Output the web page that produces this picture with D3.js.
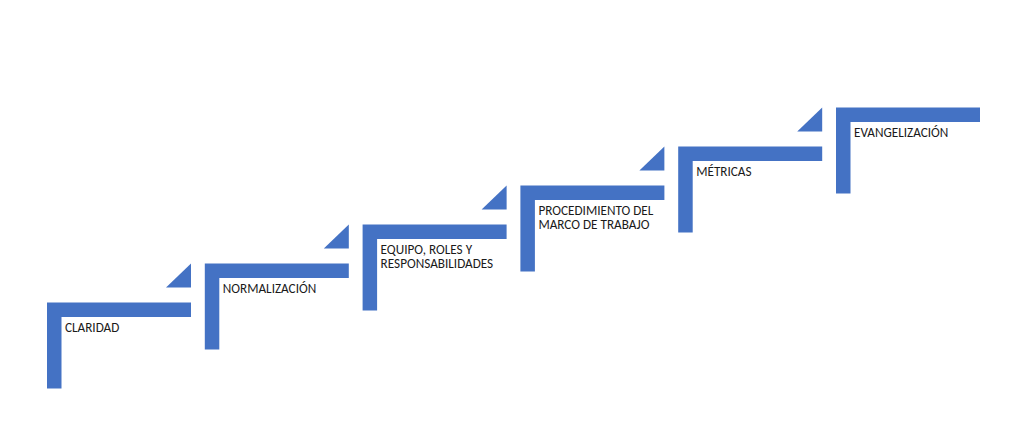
<!DOCTYPE html>
<html>
<head>
<meta charset="utf-8">
<script src="https://cdn.jsdelivr.net/npm/d3@7"></script>
<style>
  body { margin:0; background:#fff; }
  svg { display:block; }
</style>
</head>
<body>
<svg id="chart" width="1019" height="421"></svg>
<script>
// Step labels (one entry per line)
var steps = [0, 1, 2, 3, 4, 5];
var labels = [
  ["CLARIDAD"],
  ["NORMALIZACIÓN"],
  ["EQUIPO, ROLES Y", "RESPONSABILIDADES"],
  ["PROCEDIMIENTO DEL", "MARCO DE TRABAJO"],
  ["MÉTRICAS"],
  ["EVANGELIZACIÓN"]
];

var svg = d3.select("#chart");
var blue = "#4472C4";

// position scales for the staircase
var x = d3.scaleLinear().domain([0, 5]).range([47, 836]);
var y = d3.scaleLinear().domain([0, 5]).range([302.5, 107.5]);

var w = 144, h = 86, t = 14.5;

var g = svg.selectAll("g.step").data(steps).enter().append("g").attr("class", "step")
    .attr("transform", d => `translate(${x(d)},${y(d)})`);

// L-shaped step
g.append("path")
    .attr("d", `M0,0H${w}V${t}H${t}V${h}H0Z`)
    .attr("fill", blue);

// small triangle leading to next step
var dy = y(0) - y(1);
g.filter(d => d < steps.length - 1).append("path")
    .attr("d", `M${w - 25},-15H${w}V${-dy}Z`)
    .attr("fill", blue);

// labels
g.each(function(d){
    var txt = d3.select(this).append("text")
        .attr("x", 18)
        .attr("y", 29.5)
        .attr("font-family", "Carlito, Calibri, 'Liberation Sans', Arial, sans-serif")
        .attr("font-size", "13.2px")
        .attr("fill", "#1a1a1a");
    labels[d].forEach((line, i) => {
        txt.append("tspan").attr("x", 18).attr("dy", i === 0 ? 0 : 13.5).text(line);
    });
});
</script>
</body>
</html>
